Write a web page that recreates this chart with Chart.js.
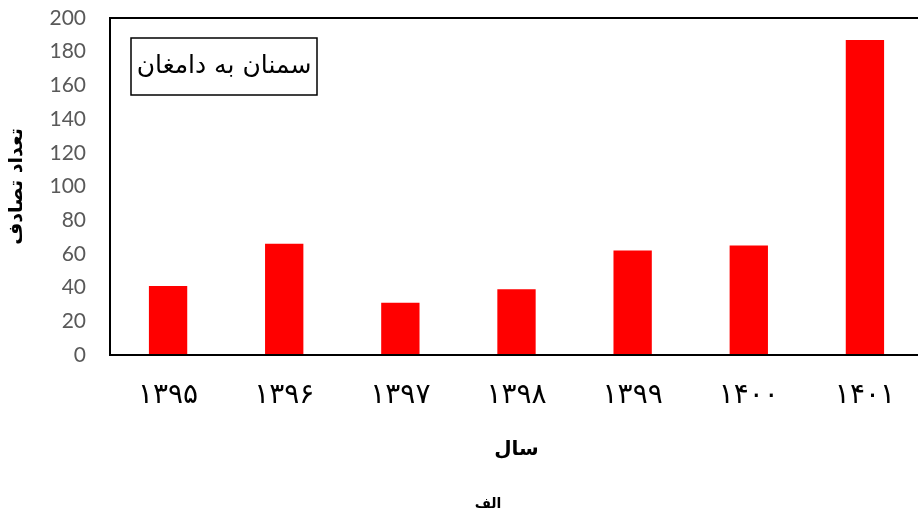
<!DOCTYPE html>
<html>
<head>
<meta charset="utf-8">
<script src="https://cdn.jsdelivr.net/npm/chart.js@4.4.0/dist/chart.umd.min.js"></script>
<style>
    body { margin: 0; overflow: hidden; background: #fff; }
    #wrap { width: 923px; height: 517px; }
</style>
</head>
<body>
<div id="wrap"><canvas id="accidents" width="923" height="517"></canvas></div>
<script>
var years = ['۱۳۹۵', '۱۳۹۶', '۱۳۹۷', '۱۳۹۸', '۱۳۹۹', '۱۴۰۰', '۱۴۰۱'];
var accidentCounts = [41, 66, 31, 39, 62, 65, 187];
var seriesName = 'سمنان به دامغان';
var yAxisTitle = 'تعداد تصادف';
var xAxisTitle = 'سال';
var panelLabel = 'الف';

// frame around the plot, the boxed series name and the panel letter
var frameBox = {
    id: 'frameBox',
    afterDatasetsDraw: function (chart) {
        var ctx = chart.ctx;
        var a = chart.chartArea;
        ctx.save();
        ctx.strokeStyle = '#000';
        ctx.lineWidth = 2;
        ctx.strokeRect(a.left, a.top, a.right - a.left, a.bottom - a.top);

        var bx = a.left + 21, by = a.top + 20, bw = 186, bh = 57;
        ctx.fillStyle = '#fff';
        ctx.fillRect(bx, by, bw, bh);
        ctx.lineWidth = 1.5;
        ctx.strokeRect(bx, by, bw, bh);
        ctx.fillStyle = '#000';
        ctx.font = '25px "DejaVu Sans"';
        ctx.textAlign = 'center';
        ctx.textBaseline = 'middle';
        ctx.fillText(chart.data.datasets[0].label, bx + bw / 2, by + bh / 2);

        ctx.font = 'bold 14px "DejaVu Sans"';
        ctx.fillText(panelLabel, 488, 504);
        ctx.restore();
    }
};

var ctx = document.getElementById('accidents').getContext('2d');
var accidentChart = new Chart(ctx, {
    type: 'bar',
    data: {
        labels: years,
        datasets: [{
            label: seriesName,
            data: accidentCounts,
            backgroundColor: '#ff0000',
            borderWidth: 0,
            barPercentage: 0.33,
            categoryPercentage: 1
        }]
    },
    options: {
        responsive: false,
        animation: false,
        devicePixelRatio: 1,
        layout: { padding: { top: 18, left: 0, right: 0, bottom: 0 } },
        plugins: {
            legend: { display: false },
            tooltip: { enabled: false }
        },
        scales: {
            x: {
                grid: { display: false, drawTicks: false },
                border: { display: false },
                ticks: {
                    color: '#000',
                    padding: 24,
                    font: { family: 'DejaVu Sans', size: 28 }
                },
                title: {
                    display: true,
                    text: xAxisTitle,
                    color: '#000',
                    padding: { top: 0, bottom: 55 },
                    font: { family: 'DejaVu Sans', size: 20, weight: 'bold' }
                },
                afterFit: function (scale) { scale.height = 162; }
            },
            y: {
                min: 0,
                max: 200,
                grid: { display: false, drawTicks: false },
                border: { display: false },
                ticks: {
                    stepSize: 20,
                    color: '#595959',
                    padding: 24,
                    font: { family: 'Lato', size: 21 }
                },
                title: {
                    display: true,
                    text: yAxisTitle,
                    color: '#000',
                    padding: { top: 6, bottom: 0 },
                    font: { family: 'DejaVu Sans', size: 19, weight: 'bold' }
                },
                afterFit: function (scale) {
                    scale.width = 110;
                    // let the layout padding alone set the plot top
                    scale.paddingTop = 0;
                    scale.paddingBottom = 0;
                }
            }
        }
    },
    plugins: [frameBox]
});
</script>
</body>
</html>
